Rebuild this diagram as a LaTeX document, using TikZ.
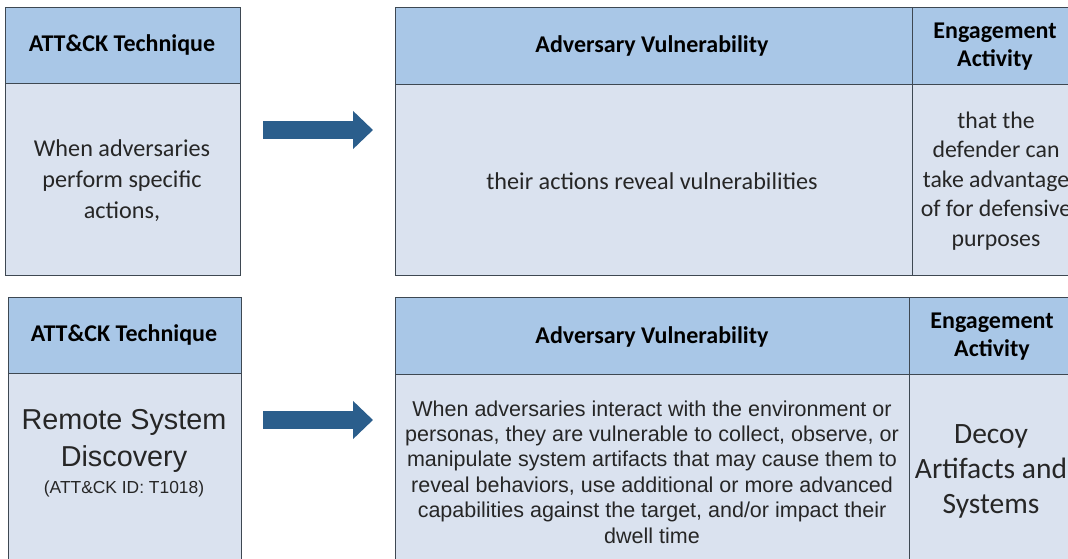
\documentclass[tikz,border=0pt]{standalone}
\usepackage{fontspec}
\setmainfont{Carlito}
\newfontfamily\arialf{Liberation Sans}
\usetikzlibrary{arrows.meta}
\definecolor{hdrblue}{HTML}{A9C7E7}
\definecolor{bodyblue}{HTML}{DAE2EF}
\definecolor{edge}{HTML}{3E4852}
\definecolor{arrowblue}{HTML}{2B5E8C}
\definecolor{txt}{HTML}{262626}
\tikzset{
  hdrcell/.style={draw=edge, line width=1.4pt, fill=hdrblue, anchor=north west, inner sep=0pt},
  bodycell/.style={draw=edge, line width=1.4pt, fill=bodyblue, anchor=north west, inner sep=0pt},
  hdrtext/.style={font=\bfseries\fontsize{24}{28}\selectfont, text=black, align=center, inner sep=0pt},
  calitext/.style={font=\fontsize{24.2}{31}\selectfont, text=txt, align=center, inner sep=0pt},
  bigcali/.style={font=\fontsize{29.5}{35}\selectfont, text=txt, align=center, inner sep=0pt},
  ariatext/.style={font=\arialf\fontsize{21.5}{25.4}\selectfont, text=txt, align=center, inner sep=0pt},
  blockarrow/.style={draw=arrowblue, line width=18pt, -{Triangle[length=20pt,width=37pt]}},
}
\begin{document}
\begin{tikzpicture}[x=1pt,y=-1pt]
\useasboundingbox (0,0) rectangle (1068,559);
\begin{scope}
\clip (0,0) rectangle (1068,559);
% ---- top row ----
\node[hdrcell, minimum width=235pt, minimum height=76pt] (tlh) at (5,7) {};
\node[bodycell, minimum width=235pt, minimum height=192pt] (tlb) at (5,83) {};
\node[hdrcell, minimum width=517pt, minimum height=77pt] (tavh) at (395,7) {};
\node[hdrcell, minimum width=175pt, minimum height=77pt] (teah) at (912,7) {};
\node[bodycell, minimum width=517pt, minimum height=191pt] (tavb) at (395,84) {};
\node[bodycell, minimum width=175pt, minimum height=191pt] (teab) at (912,84) {};
% ---- bottom row ----
\node[hdrcell, minimum width=233pt, minimum height=76pt] (blh) at (8,297) {};
\node[bodycell, minimum width=233pt, minimum height=200pt] (blb) at (8,373) {};
\node[hdrcell, minimum width=514pt, minimum height=77pt] (bavh) at (395,297) {};
\node[hdrcell, minimum width=175pt, minimum height=77pt] (beah) at (909,297) {};
\node[bodycell, minimum width=514pt, minimum height=200pt] (bavb) at (395,374) {};
\node[bodycell, minimum width=175pt, minimum height=200pt] (beab) at (909,374) {};
% ---- texts top ----
\node[hdrtext] (t1) at (122,45) {ATT\&CK Technique};
\node[calitext] (t2) at (122,181) {When adversaries\\perform specific\\actions,};
\node[hdrtext] (t3) at (652,46) {Adversary Vulnerability};
\node[hdrtext] (t4) at (995,47) {Engagement\\Activity};
\node[calitext] (t5) at (652,181) {their actions reveal vulnerabilities};
\node[calitext, font=\fontsize{23.8}{29.5}\selectfont] (t6) at (996,181) {that the\\defender can\\take advantage\\of for defensive\\purposes};
% ---- texts bottom ----
\node[hdrtext] (b1) at (124,335) {ATT\&CK Technique};
\node[font=\arialf\fontsize{28.8}{37}\selectfont, text=txt, align=center, inner sep=0pt] (b2) at (124,441) {Remote System\\Discovery};
\node[font=\arialf\fontsize{17.4}{19}\selectfont, text=txt, inner sep=0pt] (b3) at (124,489) {(ATT\&CK ID: T1018)};
\node[hdrtext] (b4) at (652,337) {Adversary Vulnerability};
\node[hdrtext] (b5) at (992,337) {Engagement\\Activity};
\node[ariatext] (b6) at (652,472) {When adversaries interact with the environment or\\personas, they are vulnerable to collect, observe, or\\manipulate system artifacts that may cause them to\\reveal behaviors, use additional or more advanced\\capabilities against the target, and/or impact their\\dwell time};
\node[bigcali] (b7) at (991,471) {Decoy\\Artifacts and\\Systems};
% ---- arrows ----
\coordinate (a1s) at (263,130);
\coordinate (a1e) at (373,130);
\coordinate (a2s) at (263,420);
\coordinate (a2e) at (373,420);
\draw[blockarrow] (a1s) -- (a1e);
\draw[blockarrow] (a2s) -- (a2e);
\end{scope}
\end{tikzpicture}
\end{document}
